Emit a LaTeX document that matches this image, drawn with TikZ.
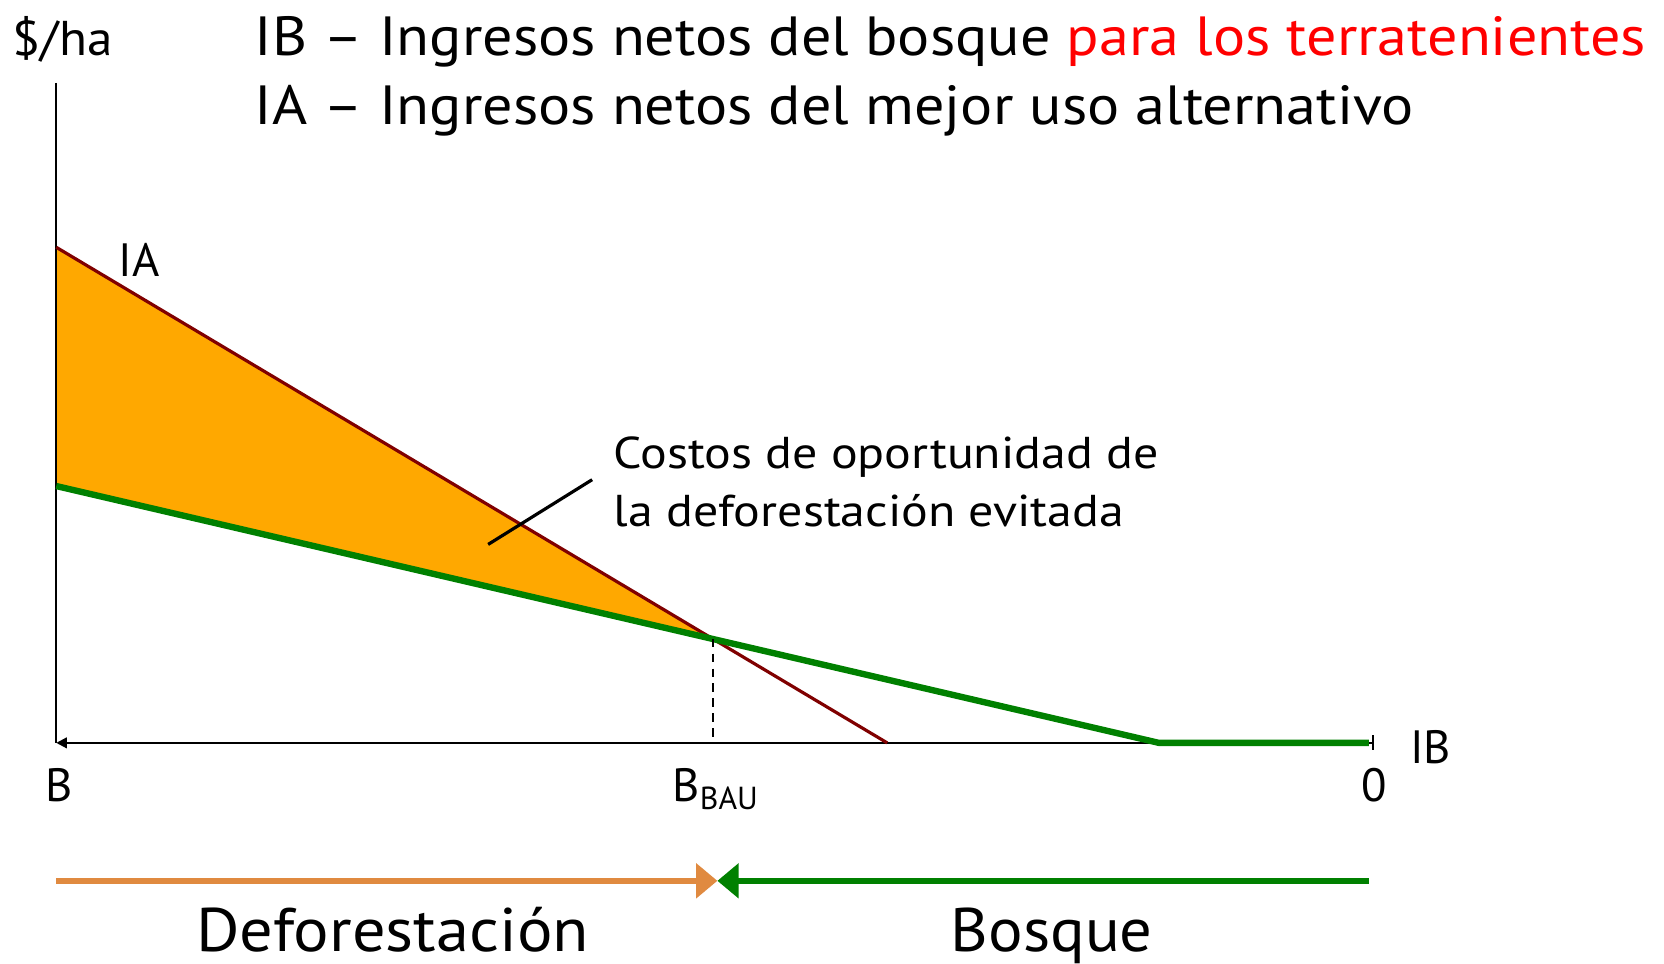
\documentclass[tikz,border=0pt]{standalone}
\usepackage{fontspec}
\setmainfont{PT Sans}
\usetikzlibrary{arrows.meta}
\definecolor{iared}{HTML}{800000}
\definecolor{fillor}{HTML}{FFA800}
\definecolor{gr}{HTML}{008000}
\definecolor{defor}{HTML}{E08A40}
\newcommand{\hsc}[2]{\scalebox{#1}[1]{#2}}
\begin{document}
\begin{tikzpicture}[x=1pt,y=-1pt,
  lbl/.style={inner sep=0pt,font=\fontsize{44}{52}\selectfont},
  head/.style={inner sep=0pt,anchor=base west,font=\fontsize{52}{60}\selectfont},
  big/.style={inner sep=0pt,anchor=base,font=\fontsize{58}{66}\selectfont}]
\useasboundingbox (0,0) rectangle (1568,908);
% coordinates
\coordinate (O) at (53,700);
\coordinate (Ytop) at (53,78);
\coordinate (Xend) at (1295,700);
\coordinate (IAs) at (53,233);
\coordinate (IAe) at (836,700);
\coordinate (Gs) at (53,458);
\coordinate (BAU) at (672,602);
\coordinate (Gk) at (1092,700);
\coordinate (Ge) at (1290,700);
\coordinate (BAUx) at (672,700);
% fill
\fill[fillor] (IAs) -- (BAU) -- (Gs) -- cycle;
% axes
\draw[line width=2pt] (Ytop) -- (O);
\draw[line width=2pt,{Triangle[length=10pt,width=10pt]}-{Bar[width=14pt]}] (O) -- (Xend);
% lines
\draw[iared,line width=3pt] (IAs) -- (IAe);
\draw[gr,line width=6pt] (Gs) -- (Gk) -- (Ge);
\draw[dashed,line width=1.6pt,dash pattern=on 8pt off 6pt] (BAU) -- (BAUx);
% leader
\coordinate (L1) at (460,513);
\coordinate (L2) at (558,452);
\draw[line width=3pt] (L1) -- (L2);
% texts
\node[inner sep=0pt,anchor=base west,font=\fontsize{46}{52}\selectfont] (ha) at (12,52) {\hsc{1.05}{\$/ha}};
\node[head] (h1) at (240,52) {\hsc{1.09}{IB – Ingresos netos del bosque \textcolor{red}{para los terratenientes}}};
\node[head] (h2) at (240,117) {\hsc{1.09}{IA – Ingresos netos del mejor uso alternativo}};
\node[lbl] (ia) at (131,245) {IA};
\node[lbl,anchor=west,align=left,font=\fontsize{42}{54}\selectfont] (cost) at (578,454) {\hsc{1.12}{Costos de oportunidad de}\\\hsc{1.12}{la deforestación evitada}};
\node[lbl] (b) at (56,740) {B};
\node[lbl,anchor=base] (bbau) at (674,755) {B\raisebox{-0.35ex}{\fontsize{30}{30}\selectfont BAU}};
\node[lbl] (zero) at (1295,740) {0};
\node[lbl] (ib) at (1348,704) {IB};
% bottom arrows
\coordinate (A1) at (53,830);
\coordinate (A2) at (676,830);
\coordinate (A3) at (1290,830);
\draw[defor,line width=6pt,-{Triangle[length=20pt,width=32pt]}] (A1) -- (A2);
\draw[gr,line width=6pt,-{Triangle[length=20pt,width=32pt]}] (A3) -- (A2);
\node[big] (def) at (370,897) {\hsc{1.08}{Deforestación}};
\node[big] (bos) at (991,897) {\hsc{1.05}{Bosque}};
\end{tikzpicture}
\end{document}
